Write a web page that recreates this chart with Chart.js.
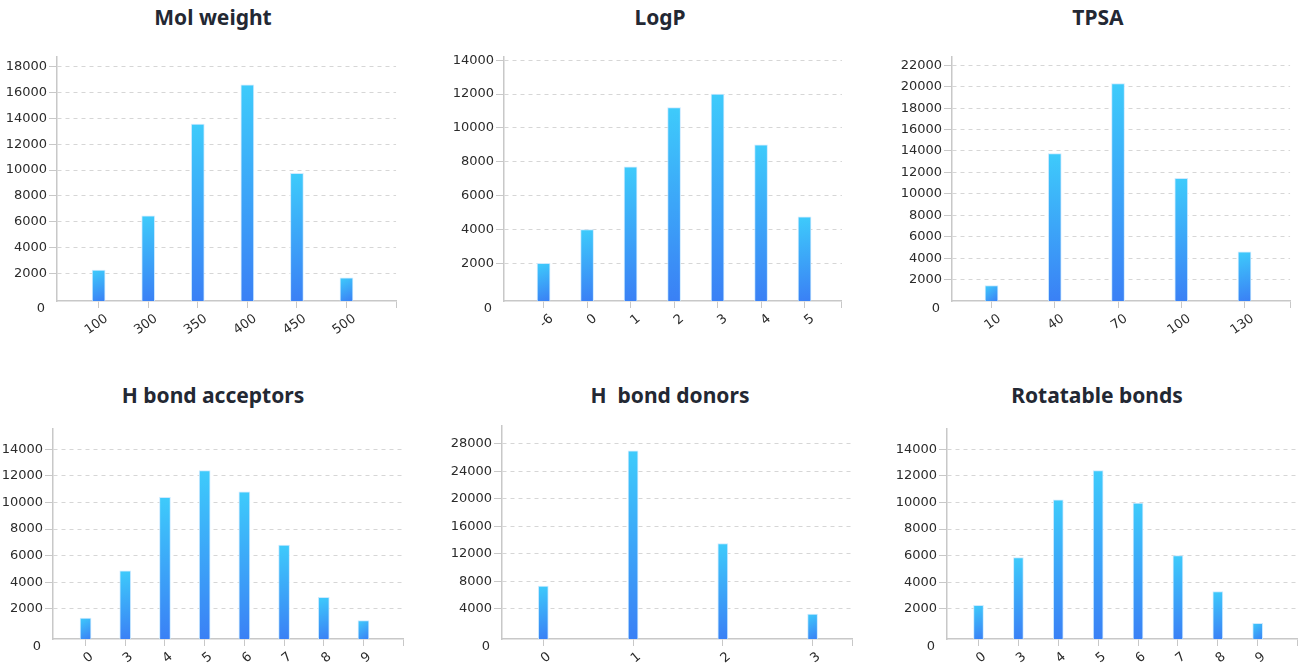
<!DOCTYPE html>
<html>
<head>
<meta charset="utf-8">
<script src="https://cdn.jsdelivr.net/npm/chart.js@4/dist/chart.umd.min.js"></script>
<style>
  html, body { margin: 0; padding: 0; background: #fff; overflow: hidden; }
  body { width: 1304px; height: 672px; position: relative; }
  .title {
    position: absolute;
    font-family: "Noto Sans", sans-serif;
    font-weight: 700;
    font-size: 21px;
    color: #232833;
    text-align: center;
    white-space: pre;
    line-height: 24px;
  }
  canvas { position: absolute; }
</style>
</head>
<body>
<script>
// ---- data ----
const molWeightLabels = ["100", "300", "350", "400", "450", "500"];
const molWeightCounts = [2250, 6450, 13550, 16600, 9750, 1650];
const molWeightTicks = [2000, 4000, 6000, 8000, 10000, 12000, 14000, 16000, 18000];

const logPLabels = ["-6", "0", "1", "2", "3", "4", "5"];
const logPCounts = [2000, 4000, 7700, 11200, 12000, 9000, 4750];
const logPTicks = [2000, 4000, 6000, 8000, 10000, 12000, 14000];

const tpsaLabels = ["10", "40", "70", "100", "130"];
const tpsaCounts = [1450, 13750, 20300, 11450, 4600];
const tpsaTicks = [2000, 4000, 6000, 8000, 10000, 12000, 14000, 16000, 18000, 20000, 22000];

const hbaLabels = ["0", "3", "4", "5", "6", "7", "8", "9"];
const hbaCounts = [1300, 4850, 10400, 12400, 10800, 6800, 2850, 1100];
const hbaTicks = [2000, 4000, 6000, 8000, 10000, 12000, 14000];

const hbdLabels = ["0", "1", "2", "3"];
const hbdCounts = [7300, 27000, 13500, 3200];
const hbdTicks = [4000, 8000, 12000, 16000, 20000, 24000, 28000];

const rotLabels = ["0", "3", "4", "5", "6", "7", "8", "9"];
const rotCounts = [2250, 5850, 10200, 12400, 9950, 6000, 3300, 900];
const rotTicks = [2000, 4000, 6000, 8000, 10000, 12000, 14000];

const gridGrey = "#d6d6d6";
const axisGrey = "#c8c8c8";
const textDark = "#2b2b2b";

Chart.defaults.font = { family: "DejaVu Sans", size: 13 };
Chart.defaults.color = textDark;

const Y_AXIS_W = 55;
const PAD_TOP = 12;
const PAD_RIGHT = 8;

// draws the "0" label a little under the x axis, like the original
const zeroLabel = {
  id: "zeroLabel",
  afterDraw(chart) {
    const y = chart.scales.y;
    const ctx = chart.ctx;
    ctx.save();
    ctx.font = "13px DejaVu Sans";
    ctx.fillStyle = textDark;
    ctx.textAlign = "right";
    ctx.textBaseline = "middle";
    ctx.fillText("0", y.right - 12, y.bottom + 8);
    ctx.restore();
  },
};

function barFill(c) {
  const chart = c.chart;
  if (!chart.chartArea || !c.raw) return "#38a8f8";
  const xs = chart.scales.x;
  const ys = chart.scales.y;
  const cx = xs.getPixelForValue(c.raw.x);
  const top = ys.getPixelForValue(c.raw.y);
  const bottom = ys.bottom;
  const g = chart.ctx.createLinearGradient(cx - 6, top, cx + 6, bottom);
  g.addColorStop(0, "#3ecbfb");
  g.addColorStop(1, "#3a80f5");
  return g;
}

function makeChart(cfg) {
  const { title, labels, counts, ticks, area, xAxisH, yMin, yMax, xMin, xMax, barW, rotation, labelShift, titlePos } = cfg;

  const t = document.createElement("div");
  t.className = "title";
  t.textContent = title;
  t.style.left = titlePos[0] - 150 + "px";
  t.style.width = "300px";
  t.style.top = titlePos[1] - 12 + "px";
  document.body.appendChild(t);

  const canvas = document.createElement("canvas");
  const w = area.r - area.l + Y_AXIS_W + PAD_RIGHT;
  const h = area.b - area.t + PAD_TOP + xAxisH;
  canvas.width = w;
  canvas.height = h;
  canvas.style.width = w + "px";
  canvas.style.height = h + "px";
  canvas.style.left = area.l - Y_AXIS_W + "px";
  canvas.style.top = area.t - PAD_TOP + "px";
  document.body.appendChild(canvas);

  new Chart(canvas.getContext("2d"), {
    type: "bar",
    data: {
      datasets: [
        {
          data: counts.map((v, i) => ({ x: i, y: v })),
          backgroundColor: barFill,
          borderColor: "rgba(200, 232, 255, 0.9)",
          borderWidth: { left: 1, right: 1, top: 1, bottom: 0 },
          barThickness: barW,
          base: yMin,
        },
      ],
    },
    plugins: [zeroLabel],
    options: {
      responsive: false,
      animation: false,
      layout: { padding: { top: PAD_TOP, right: PAD_RIGHT, left: 0, bottom: 0 } },
      plugins: { legend: { display: false }, tooltip: { enabled: false } },
      scales: {
        x: {
          type: "linear",
          offset: false,
          min: xMin,
          max: xMax,
          afterFit: (s) => { s.height = xAxisH; },
          afterBuildTicks: (s) => {
            s.ticks = labels.map((_, i) => ({ value: i })).concat([{ value: xMax }]);
          },
          ticks: {
            autoSkip: false,
            minRotation: rotation,
            maxRotation: rotation,
            padding: 3,
            labelOffset: labelShift,
            callback: (v) => (Number.isInteger(v) && v < labels.length ? labels[v] : ""),
          },
          grid: {
            offset: false,
            drawOnChartArea: false,
            drawTicks: true,
            tickLength: 7,
            tickColor: axisGrey,
          },
          border: { display: true, color: axisGrey, width: 1.5 },
        },
        y: {
          min: yMin,
          max: yMax,
          afterFit: (s) => { s.width = Y_AXIS_W; },
          afterBuildTicks: (s) => {
            s.ticks = ticks.map((v) => ({ value: v }));
          },
          ticks: { padding: 2, autoSkip: false, callback: (v) => String(v) },
          grid: {
            color: gridGrey,
            lineWidth: 1,
            drawTicks: true,
            tickLength: 8,
            tickColor: axisGrey,
            tickBorderDash: [],
          },
          // border.dash makes the grid lines dashed
          border: { display: true, color: axisGrey, width: 1.5, dash: [4, 4] },
        },
      },
    },
  });
}

makeChart({
  title: "Mol weight", labels: molWeightLabels, counts: molWeightCounts, ticks: molWeightTicks,
  area: { l: 57, r: 400, t: 57, b: 301 }, xAxisH: 40, yMin: -147, yMax: 18753,
  xMin: -0.84, xMax: 6, barW: 13, rotation: 35, labelShift: 8, titlePos: [213, 17],
});
makeChart({
  title: "LogP", labels: logPLabels, counts: logPCounts, ticks: logPTicks,
  area: { l: 504, r: 847, t: 57, b: 301 }, xAxisH: 40, yMin: -218, yMax: 14185,
  xMin: -0.91, xMax: 6.86, barW: 13, rotation: 40, labelShift: 8, titlePos: [660, 17],
});
makeChart({
  title: "TPSA", labels: tpsaLabels, counts: tpsaCounts, ticks: tpsaTicks,
  area: { l: 952, r: 1294, t: 57, b: 301 }, xAxisH: 40, yMin: 0, yMax: 22772,
  xMin: -0.625, xMax: 4.72, barW: 13, rotation: 35, labelShift: 8, titlePos: [1098, 17],
});
makeChart({
  title: "H bond acceptors", labels: hbaLabels, counts: hbaCounts, ticks: hbaTicks,
  area: { l: 53, r: 409, t: 429, b: 639 }, xAxisH: 33, yMin: -279, yMax: 15537,
  xMin: -0.82, xMax: 8.02, barW: 11, rotation: 40, labelShift: 6, titlePos: [213, 395],
});
makeChart({
  title: "H  bond donors", labels: hbdLabels, counts: hbdCounts, ticks: hbdTicks,
  area: { l: 502, r: 858, t: 426, b: 639 }, xAxisH: 33, yMin: -423, yMax: 30622,
  xMin: -0.46, xMax: 3.45, barW: 10, rotation: 40, labelShift: 6, titlePos: [670, 395],
});
makeChart({
  title: "Rotatable bonds", labels: rotLabels, counts: rotCounts, ticks: rotTicks,
  area: { l: 947, r: 1303, t: 429, b: 639 }, xAxisH: 33, yMin: -279, yMax: 15537,
  xMin: -0.79, xMax: 8.01, barW: 10, rotation: 40, labelShift: 6, titlePos: [1097, 395],
});
</script>
</body>
</html>
